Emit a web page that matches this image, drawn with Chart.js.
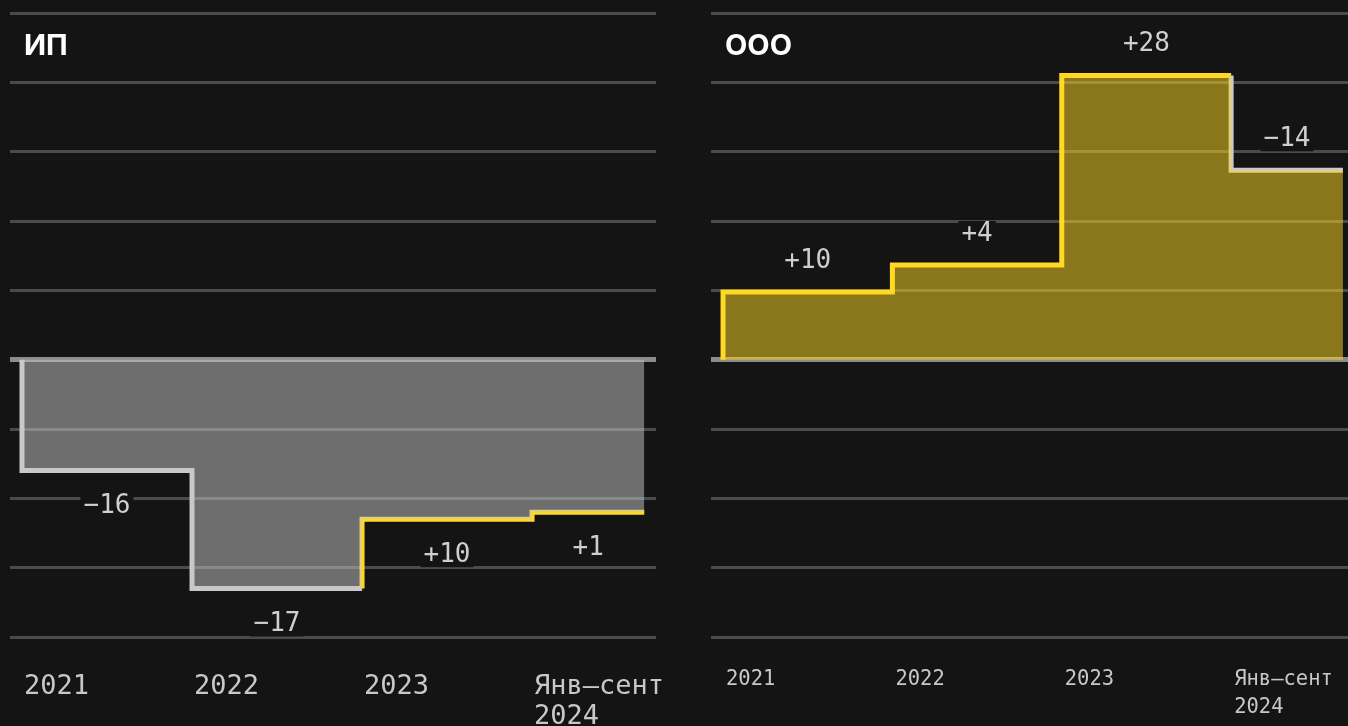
<!DOCTYPE html>
<html>
<head>
<meta charset="utf-8">
<script src="https://cdn.jsdelivr.net/npm/chart.js@4"></script>
<style>
  body { margin: 0; background: #141414; width: 1348px; height: 726px; overflow: hidden; }
  canvas { position: absolute; top: 0; }
  #ip { left: 0; }
  #ooo { left: 700px; }
</style>
</head>
<body>
<canvas id="ip" width="670" height="726"></canvas>
<canvas id="ooo" width="648" height="726"></canvas>
<script>
// period labels, left-aligned at the start of each step
const periodLabels = ['2021', '2022', '2023', ['Янв–сент', '2024']];
// step boundaries in years (last one is a partial year)
const stepX = [0, 1, 2, 3, 3.66];
// cumulative levels at each step
const ipLevels = [0, -16, -33, -23, -22];
const oooLevels = [0, 10, 14, 42, 28];
// change labels shown per step
const ipChanges = ['−16', '−17', '+10', '+1'];
const oooChanges = ['+10', '+4', '+28', '−14'];

const BG = '#141414';
const YELLOW = '#ffd923';
const GREY = '#c9c9c9';
const MONO = '"DejaVu Sans Mono", monospace';

function toPoints(levels) {
  return levels.map((v, i) => ({x: stepX[i], y: v}));
}

// draws the +N/−N labels and panel title
const labelPlugin = {
  id: 'stepLabels',
  afterDatasetsDraw(chart, args, opts) {
    const ctx = chart.ctx;
    const xs = chart.scales.x, ys = chart.scales.y;
    ctx.save();
    ctx.font = '26px ' + MONO;
    ctx.textAlign = 'center';
    ctx.textBaseline = 'middle';
    for (let i = 0; i < opts.texts.length; i++) {
      const cx = xs.getPixelForValue((stepX[i] + stepX[i + 1]) / 2);
      const cy = ys.getPixelForValue(opts.levels[i + 1]) + opts.offset;
      const w = ctx.measureText(opts.texts[i]).width;
      ctx.fillStyle = BG;
      ctx.fillRect(cx - w / 2 - 3, cy - 13, w + 6, 25);
      ctx.fillStyle = '#cfcfcf';
      ctx.fillText(opts.texts[i], cx, cy);
    }
    ctx.font = 'bold 29px Inter, "Noto Sans", sans-serif';
    ctx.textAlign = 'left';
    ctx.fillStyle = '#ffffff';
    ctx.fillText(opts.title, chart.chartArea.left + 14, 46);
    ctx.restore();
  }
};

function makeChart(id, cfg) {
  const yMin = -4 * cfg.gridStep, yMax = 5 * cfg.gridStep;
  return new Chart(document.getElementById(id), {
    type: 'line',
    data: {
      datasets: [{
        // area only
        data: toPoints(cfg.levels),
        stepped: 'after',
        borderWidth: 0,
        pointRadius: 0,
        fill: 'origin',
        backgroundColor: cfg.fill
      }, {
        // coloured step line
        data: toPoints(cfg.levels),
        stepped: 'after',
        borderWidth: 5,
        borderJoinStyle: 'miter',
        pointRadius: 0,
        fill: false,
        segment: {
          borderColor: c => c.p1.parsed.y > c.p0.parsed.y ? YELLOW : GREY
        }
      }]
    },
    options: {
      responsive: false,
      animation: false,
      layout: {padding: {top: 13, left: cfg.padLeft, right: cfg.padRight, bottom: 0}},
      plugins: {
        legend: {display: false},
        tooltip: {enabled: false},
        stepLabels: {texts: cfg.texts, levels: cfg.levels, offset: cfg.offset, title: cfg.title}
      },
      scales: {
        x: {
          type: 'linear',
          min: cfg.xMin, max: cfg.xMax,
          grid: {display: false},
          border: {display: false},
          afterBuildTicks: s => { s.ticks = [0, 1, 2, 3].map(v => ({value: v})); },
          afterFit: s => { s.height = 89; s.paddingLeft = 0; s.paddingRight = 0; },
          ticks: {
            autoSkip: false,
            maxRotation: 0,
            align: 'start',
            padding: cfg.tickPad,
            labelOffset: cfg.tickShift,
            color: '#c8c8c8',
            font: {family: MONO, size: cfg.tickSize, lineHeight: cfg.tickLH},
            callback: v => periodLabels[v]
          }
        },
        y: {
          min: yMin, max: yMax,
          afterBuildTicks: s => {
            s.ticks = [];
            for (let i = -4; i <= 5; i++) s.ticks.push({value: i * cfg.gridStep});
          },
          afterFit: s => { s.width = 0; s.paddingTop = 0; s.paddingBottom = 0; },
          border: {display: false},
          ticks: {display: false},
          grid: {
            drawTicks: false,
            color: c => c.tick.value === 0 ? '#8c8c8c' : '#4b4b4b',
            lineWidth: c => c.tick.value === 0 ? 5 : 3
          }
        }
      }
    },
    plugins: [labelPlugin]
  });
}

makeChart('ip', {
  levels: ipLevels, texts: ipChanges, title: 'ИП',
  gridStep: 10, offset: 36,
  fill: 'rgba(200,200,200,0.5)',
  padLeft: 10, padRight: 14,
  xMin: -0.0706, xMax: 3.729,
  tickPad: 27, tickSize: 27, tickLH: 1.12, tickShift: 2
});

makeChart('ooo', {
  levels: oooLevels, texts: oooChanges, title: 'ООО',
  gridStep: 10.25, offset: -31,
  fill: 'rgba(255,217,35,0.5)',
  padLeft: 11, padRight: 0,
  xMin: -0.071, xMax: 3.69,
  tickPad: 20, tickSize: 20.5, tickLH: 1.4, tickShift: 3
});
</script>
</body>
</html>
